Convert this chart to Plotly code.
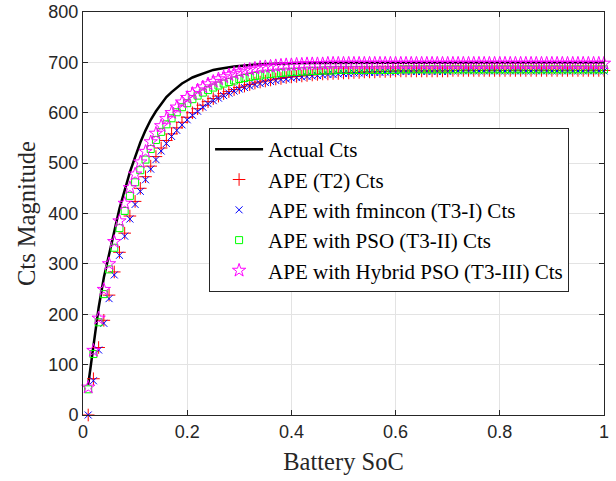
import plotly.graph_objects as go

# Battery state of charge sample points
soc = [i / 100 for i in range(1, 101)]

actual_cts = [
    60, 142, 213, 273, 322, 364, 410, 448, 482, 512,
    541, 565, 586, 603, 618, 631, 641, 650, 658, 664,
    670, 674, 678, 682, 685, 687, 689, 691, 692, 693,
    694, 695, 696, 696, 697, 697, 698, 698, 698, 699,
    699, 699, 699, 699, 699, 700, 700, 700, 700, 700,
    700, 700, 700, 700, 700, 700, 700, 700, 700, 700,
    700, 700, 700, 700, 700, 700, 700, 700, 700, 700,
    700, 700, 700, 700, 700, 700, 700, 700, 700, 700,
    700, 700, 700, 700, 700, 700, 700, 700, 700, 700,
    700, 700, 700, 700, 700, 700, 700, 700, 700, 700,
]

ape_t2 = [
    0, 72, 134, 188, 238, 284, 323, 361, 395, 424,
    450, 473, 494, 513, 530, 545, 558, 570, 581, 591,
    600, 608, 615, 622, 628, 633, 638, 642, 646, 650,
    653, 656, 659, 661, 663, 665, 667, 668, 670, 671,
    672, 673, 674, 675, 676, 677, 677, 678, 678, 679,
    679, 680, 680, 681, 681, 681, 682, 682, 682, 683,
    683, 683, 683, 683, 683, 683, 683, 683, 683, 683,
    684, 684, 684, 684, 684, 684, 684, 684, 684, 684,
    684, 684, 684, 684, 684, 684, 684, 684, 684, 684,
    684, 684, 684, 684, 684, 684, 684, 684, 684, 684,
]

ape_fmincon = [
    0, 68, 129, 182, 231, 278, 317, 355, 389, 418,
    444, 467, 488, 507, 524, 539, 553, 565, 576, 586,
    595, 603, 611, 618, 624, 629, 634, 639, 643, 647,
    650, 653, 656, 658, 660, 662, 664, 666, 667, 669,
    670, 671, 672, 673, 674, 675, 676, 676, 677, 678,
    678, 679, 679, 679, 680, 680, 680, 681, 681, 681,
    682, 682, 682, 682, 682, 682, 682, 682, 682, 682,
    683, 683, 683, 683, 683, 683, 683, 683, 683, 683,
    683, 683, 683, 683, 683, 683, 683, 683, 683, 683,
    683, 683, 683, 683, 683, 683, 683, 683, 683, 683,
]

ape_pso = [
    51, 121, 184, 240, 289, 332, 371, 405, 435, 462,
    486, 507, 528, 546, 562, 577, 589, 601, 611, 619,
    627, 634, 640, 645, 650, 654, 658, 661, 664, 667,
    669, 671, 673, 674, 676, 677, 678, 679, 680, 681,
    681, 682, 682, 683, 683, 684, 684, 684, 685, 685,
    685, 685, 685, 685, 685, 685, 685, 685, 685, 685,
    686, 686, 686, 686, 686, 686, 686, 686, 686, 686,
    686, 686, 686, 686, 686, 686, 686, 686, 686, 686,
    686, 686, 686, 686, 686, 686, 686, 686, 686, 686,
    686, 686, 686, 686, 686, 686, 686, 686, 686, 686,
]

ape_hybrid = [
    55, 128, 192, 249, 300, 344, 385, 420, 451, 478,
    502, 523, 542, 559, 574, 588, 600, 611, 621, 630,
    638, 645, 651, 657, 662, 667, 671, 675, 678, 681,
    684, 686, 688, 690, 691, 692, 693, 694, 695, 695,
    696, 696, 697, 697, 697, 697, 698, 698, 698, 698,
    698, 698, 698, 698, 698, 698, 698, 698, 698, 698,
    698, 698, 698, 698, 698, 698, 698, 698, 698, 698,
    698, 698, 698, 698, 698, 698, 698, 698, 698, 698,
    698, 698, 698, 698, 698, 698, 698, 698, 698, 698,
    698, 698, 698, 698, 698, 698, 698, 698, 698, 698,
]

x_ticks = [0, 0.2, 0.4, 0.6, 0.8, 1]
x_tick_labels = ["0", "0.2", "0.4", "0.6", "0.8", "1"]
y_ticks = [0, 100, 200, 300, 400, 500, 600, 700, 800]

names = [
    "Actual Cts",
    "APE (T2) Cts",
    "APE with fmincon (T3-I) Cts",
    "APE with PSO (T3-II) Cts",
    "APE with Hybrid PSO (T3-III) Cts",
]

fig = go.Figure()
fig.add_trace(go.Scatter(x=soc, y=actual_cts, mode="lines", name=names[0],
                         line=dict(color="black", width=2.5), cliponaxis=False))
fig.add_trace(go.Scatter(x=soc, y=ape_t2, mode="markers", name=names[1], cliponaxis=False,
                         marker=dict(symbol="cross-thin", size=9, color="#ff0000",
                                     line=dict(color="#ff0000", width=1))))
fig.add_trace(go.Scatter(x=soc, y=ape_fmincon, mode="markers", name=names[2], cliponaxis=False,
                         marker=dict(symbol="x-thin", size=7, color="#0000ff",
                                     line=dict(color="#0000ff", width=1))))
fig.add_trace(go.Scatter(x=soc, y=ape_pso, mode="markers", name=names[3], cliponaxis=False,
                         marker=dict(symbol="square-open", size=7, color="#00ff00",
                                     line=dict(color="#00ff00", width=1))))
fig.add_trace(go.Scatter(x=soc, y=ape_hybrid, mode="markers", name=names[4], cliponaxis=False,
                         marker=dict(symbol="star-open", size=10, color="#ff00ff",
                                     line=dict(color="#ff00ff", width=1))))

axis_common = dict(
    showline=True, linecolor="#262626", linewidth=1, mirror="ticks",
    ticks="inside", ticklen=5, tickcolor="#262626",
    showgrid=True, gridcolor="#e3e3e3", gridwidth=1, zeroline=False,
    automargin=False,
    tickfont=dict(family="Liberation Sans, Arial", size=18, color="#262626"),
    title_font=dict(family="Liberation Serif, Times New Roman", size=24.5, color="#262626"),
)

fig.update_xaxes(range=[0, 1], tickvals=x_ticks, ticktext=x_tick_labels,
                 title_text="Battery SoC", title_standoff=12, **axis_common)
fig.update_yaxes(range=[0, 800], tickvals=y_ticks,
                 title_text="Cts Magnitude", title_standoff=5, **axis_common)

fig.update_layout(
    width=616, height=481,
    margin=dict(l=83, r=12, t=12, b=66, pad=0),
    paper_bgcolor="white", plot_bgcolor="white",
    showlegend=True,
    legend=dict(x=0.242, y=0.712, xanchor="left", yanchor="top",
                bgcolor="white", bordercolor="#262626", borderwidth=1,
                font=dict(family="Liberation Serif, Times New Roman", size=21, color="black"),
                itemwidth=48, tracegroupgap=0),
)

fig.write_html("out.html")
